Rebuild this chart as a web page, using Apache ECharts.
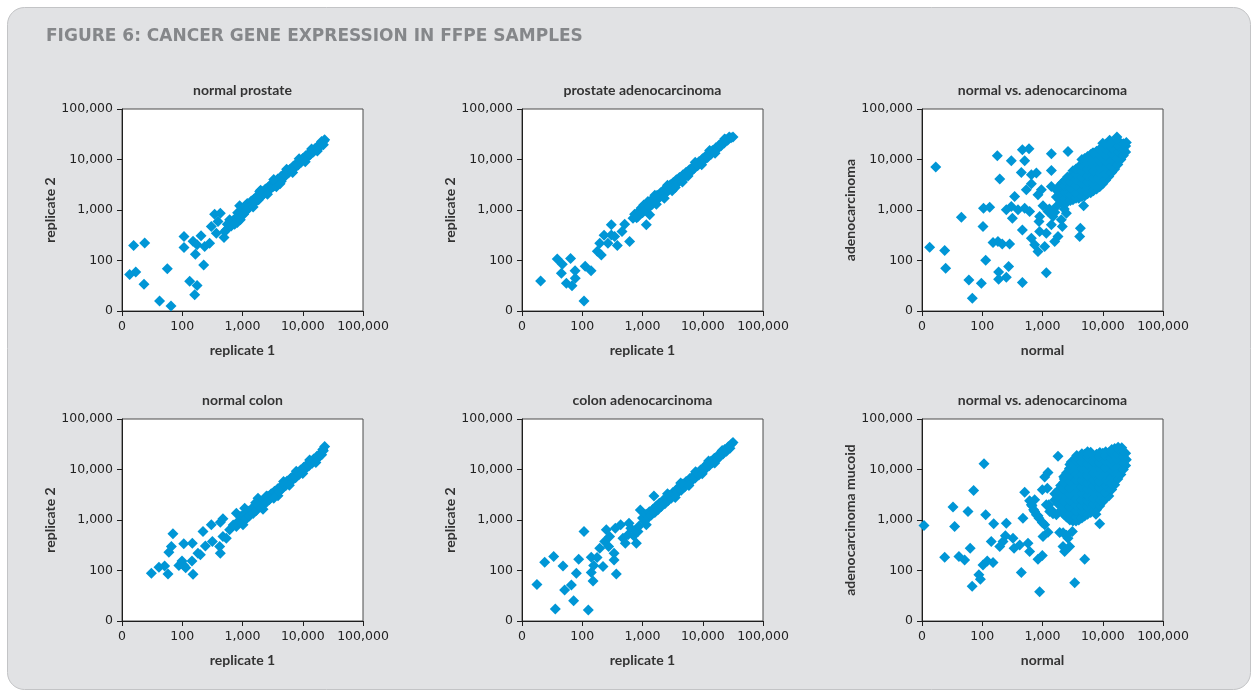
<!DOCTYPE html>
<html>
<head>
<meta charset="utf-8">
<script src="https://cdn.jsdelivr.net/npm/echarts@6/dist/echarts.min.js"></script>
<style>
html,body{margin:0;padding:0;background:#ffffff;}
#chart{width:1253px;height:692px;}
</style>
</head>
<body>
<div id="chart"></div>
<script>
// ---------- DATA ----------
const figureTitle = 'FIGURE 6: CANCER GENE EXPRESSION IN FFPE SAMPLES';
const panelTitles = ['normal prostate', 'prostate adenocarcinoma', 'normal vs. adenocarcinoma',
                     'normal colon', 'colon adenocarcinoma', 'normal vs. adenocarcinoma'];
const xNames = ['replicate 1', 'replicate 1', 'normal', 'replicate 1', 'replicate 1', 'normal'];
const yNames = ['replicate 2', 'replicate 2', 'adenocarcinoma', 'replicate 2', 'replicate 2', 'adenocarcinoma mucoid'];
const tickValues = [10, 100, 1000, 10000, 100000];
const tickLabels = ['0', '100', '1,000', '10,000', '100,000'];

const normalProstate = [
  [15.6,198],[23.8,223],[13.4,53],[16.9,59],[23.2,34],[56.5,69],[42,15.8],[65,12.6],
  [107,298],[107,180],[133,39],[176,32],[161,21],[165,133],[227,81],[151,241],[205,308],[176,204],[236,189],[285,220],
  [345,826],[428,865],[368,347],[493,285],[304,471],[539,404],[392,591],
  [612,638],[820,565],[506,375],[560,520],[650,480],[700,620],[740,520],[780,700],[830,880],[870,760],[897,1210],
  [920,640],[960,900],[1000,1050],[1050,820],[1100,1200],[1150,950],[1200,1350],[1260,1100],[1330,1250],[1400,1500],
  [1480,1300],[1560,1650],[1650,1450],[1750,1900],[1850,1600],[1930,2330],[2000,1800],[2150,2300],[2250,2050],
  [2400,2600],[2550,2300],[2700,2900],[2850,2550],[3000,3250],[3200,2900],[3420,3010],[3400,3700],[3650,3400],
  [3650,2900],[4400,3700],[3850,4100],[4100,3750],[4350,4600],[4600,4200],[4900,5200],[5200,4800],[5500,5800],
  [5800,5400],[6200,6500],[6600,6100],[7000,7400],[7400,6900],[7900,8300],[8400,7800],[8900,9300],[9400,8800],
  [10000,10500],[10600,9900],[11200,11800],[11900,11100],[12600,13200],[13400,12500],[14200,14800],[15000,14000],
  [16000,16600],[17000,15900],[18000,18700],[19000,17900],[20000,20800],[21200,20000],[22500,23500],[23100,24660],
  [1500,1150],[2000,2450],[2600,2050],[3300,4000],[4200,3300],[5400,6400],[6800,5500],[8700,10300],[11000,9000],
  [14000,16200],[17500,14800],[20500,22800],[22000,19600]
];

const prostateAdeno = [
  [20.4,39.4],[38.5,107],[46.7,84],[45,56],[64,109],[76,63],[76.5,44.5],[54.5,35.4],[67.6,31.8],[107,15.8],[112,77],[140,63],
  [178,152],[195,220],[230,317],[207,129],[267,220],[304,508],[304,321],[382,198],[345,300],[506,524],[457,375],
  [612,237],[695,689],[841,743],[1158,508],[1315,802],[1232,1479],
  [740,820],[800,700],[880,950],[950,1100],[1000,880],[1050,1250],[1120,1000],[1200,1350],[1300,1150],[1380,1550],
  [1450,1300],[1550,1700],[1650,1500],[1750,1950],[1850,1700],[2000,2200],[2100,1900],[2250,2500],[2400,2150],
  [2550,2800],[2700,2450],[2900,3150],[3050,2750],[3250,3500],[3450,3100],[3650,3950],[3900,3500],[4100,4400],
  [4400,3950],[4700,5000],[5000,4500],[5300,5600],[5600,5100],[6000,6300],[6400,5800],[6800,7100],[7200,6600],
  [7700,8000],[8200,7500],[8700,9100],[9300,8600],[9900,10300],[10500,9700],[11200,11700],[12000,11000],
  [12800,13300],[13600,12600],[14500,15100],[15500,14400],[16500,17100],[17600,16300],[18700,19400],[20000,18600],
  [21300,22000],[22700,21100],[24200,25000],[25800,24000],[27500,28000],[29500,27000],[31770,27860],
  [2300,1700],[3100,2400],[1700,1300],[4600,3600],
  [1600,1950],[2600,3100],[3500,2800],[5700,4700],[7500,8800],[9600,7900],[13000,15000],[16000,13300],[23000,25500]
];

const prostateNormalVsAdeno = [
  [13.4,183],[16.9,7080],[23.8,157],[24.7,70],[45,721],[60,41],[68.4,17.8],[96.6,35.4],[103,471],[105,1087],[133,1138],
  [114,101],[151,226],[178,11860],[195,4090],[182,237],[215,213],[285,213],[187,59],[187,42.5],[251,46.6],[274,76],
  [304,9440],[345,1854],[251,1008],[304,1172],[316,689],[392,1008],[445,5550],[463,15600],[506,9440],[597,16300],
  [463,404],[463,36.5],[539,2510],[506,1087],[612,933],[653,3300],[653,4990],[791,5380],[653,276],[741,204],[875,591],
  [957,2510],[841,2000],[897,743],[897,375],[841,150],[1087,189],[1158,347],[1019,1211],[1233,933],[1158,57.5],
  [1403,13000],[1403,6070],[1403,2920],[1494,743],[1403,508],[1592,237],[1810,298],[2054,638],[2134,471],[1700,1172],
  [2490,865],[2650,14450],[4140,298],[4250,437],[4820,1211],[1300,1050],[1600,900],[2300,1050],
  [1700,1800],[1700,2500],
  [2100,1400],[2100,1900],[2100,2600],[2100,3400],
  [2600,1450],[2600,1900],[2600,2600],[2600,3400],[2600,4500],
  [3200,1600],[3200,2100],[3200,2800],[3200,3700],[3200,4900],[3200,6000],
  [4000,1700],[4000,2300],[4000,3100],[4000,4100],[4000,5400],[4000,7200],
  [5000,1900],[5000,2600],[5000,3500],[5000,4600],[5000,6100],[5000,8100],[5000,10500],
  [6300,2200],[6300,3000],[6300,4000],[6300,5300],[6300,7000],[6300,9300],[6300,12500],
  [7900,2600],[7900,3500],[7900,4700],[7900,6200],[7900,8200],[7900,11000],[7900,14500],
  [10000,3300],[10000,4400],[10000,5800],[10000,7700],[10000,10200],[10000,13500],[10000,17500],
  [12600,4600],[12600,6100],[12600,8100],[12600,10700],[12600,14000],[12600,18500],
  [15800,6500],[15800,8600],[15800,11400],[15800,15000],[15800,20000],
  [20000,10000],[20000,13500],[20000,18000],
  [24000,14000],[24000,18500],[24600,21800],
  [2900,2300],[3600,4300],[4500,2900],[5600,5500],[7000,3800],[8800,9500],[11300,7000],[14000,12000],
  [17500,16000],[22000,20000],[9000,15500],[6800,13500],[10000,21000],[13000,24000],[17200,27900],
  [1900,1600],[1900,2200],[1900,3000],
  [2350,1450],[2350,1700],[2350,2250],[2350,3000],[2350,3900],
  [2900,1550],[2900,2000],[2900,2700],[2900,3600],[2900,4700],
  [3600,1700],[3600,2200],[3600,2950],[3600,3900],[3600,5200],[3600,6500],
  [4500,1850],[4500,2450],[4500,3300],[4500,4400],[4500,5800],[4500,7700],[4500,10000],
  [5600,2100],[5600,2800],[5600,3700],[5600,4900],[5600,6500],[5600,8700],[5600,11500],
  [7000,2400],[7000,3200],[7000,4300],[7000,5700],[7000,7600],[7000,10000],[7000,13500],
  [8900,2900],[8900,3900],[8900,5200],[8900,6900],[8900,9200],[8900,12200],[8900,16000],
  [11200,3900],[11200,5200],[11200,6900],[11200,9200],[11200,12200],[11200,16000],[11200,20000],
  [14100,5500],[14100,7300],[14100,9700],[14100,12800],[14100,17000],[14100,22000],
  [17800,8000],[17800,10500],[17800,14000],[17800,18500],[17800,24000],
  [22000,12000],[22000,16000],[22000,20500]
];

const normalColon = [
  [30.7,88],[41,116],[51,123],[58,85.5],[60,230],[66,298],[70,532],[88,125],[99,155],[106,337],[107,125],[114,114],
  [145,155],[147,347],[151,84],[182,220],[200,204],[221,591],[242,307],[304,802],[316,375],[418,298],[428,220],
  [428,906],[474,1054],[474,471],[539,437],[612,638],[791,743],[791,1368],[1019,802],[1087,1718],[1403,1368],
  [1810,2710],[2190,1640],[3880,3010],
  [700,800],[860,950],[950,1200],[1000,900],[1080,1300],[1150,1050],[1230,1500],[1300,1200],[1400,1650],[1500,1350],
  [1600,1850],[1700,1550],[1800,2100],[1950,1800],[2050,2350],[2200,2000],[2350,2650],[2500,2250],[2650,2950],
  [2800,2550],[3000,3300],[3200,2900],[3400,3700],[3600,3300],[3850,4150],[4100,3700],[4350,4650],[4600,4200],
  [4900,5200],[5200,4750],[5500,5900],[5900,5400],[6300,6700],[6700,6100],[7100,7600],[7600,6900],[8100,8600],
  [8600,7900],[9200,9800],[9800,9000],[10400,11100],[11100,10300],[11800,12600],[12600,11700],[13400,14300],
  [14300,13300],[15200,16200],[16200,15100],[17200,18400],[18300,17200],[19500,20800],[20600,19600],[22000,23500],
  [23100,28700],[21500,25000],
  [1650,2200],[2500,3000],[3300,2700],[4800,5800],[6000,4900],[7800,9200],[10000,8300],[13000,15500],[16500,13800]
];

const colonAdeno = [
  [17.7,53],[23.8,146],[33.6,189],[35.7,17.3],[47.9,123],[51,41],[66,51.8],[72,25.3],[79.8,88],[87.3,167],[107,591],
  [126,16.5],[141,183],[141,91],[151,62],[155,125],[176,180],[195,276],[221,120],[236,375],[251,638],[274,298],
  [285,471],[337,162],[337,220],[368,85.5],[354,689],[434,802],[474,437],[518,347],[597,865],[575,508],[791,347],
  [841,591],[920,1585],[1158,802],[640,690],[713,490],[760,620],[880,760],[1550,3000],
  [1000,1100],[1080,950],[1150,1300],[1230,1100],[1300,1450],[1400,1250],[1500,1650],[1600,1400],[1700,1900],
  [1800,1600],[1900,2150],[2050,1850],[2200,2450],[2350,2100],[2500,2750],[2650,2400],[2850,3100],[3000,2700],
  [3200,3500],[3400,3050],[3650,4000],[3850,3500],[4100,4550],[4400,3900],[4700,5150],[5000,4500],[5300,5800],
  [5700,5100],[6100,6600],[6500,5900],[7000,7500],[7500,6800],[8000,8600],[8600,7800],[9200,9800],[9800,9000],
  [10500,11200],[11200,10400],[12000,12800],[12800,11900],[13700,14600],[14600,13600],[15600,16700],[16700,15500],
  [17800,19000],[19000,17700],[20300,21700],[21700,20200],[23200,24800],[24800,23000],[26500,28300],[28300,26400],
  [30000,32000],[31770,34400],
  [2600,3300],[3500,2800],[4300,5400],[5900,4800],[7600,9000],[9800,8200],[12500,14700],[15800,13500],[21000,23800]
];

const colonNormalVsMucoid = [
  [10.8,778],[23.8,183],[32.7,1800],[34.8,743],[41,189],[51,162],[58,1476],[63,276],[72,3850],[88,82],[93,67],[68,49],
  [107,13000],[114,1268],[103,129],[121,155],[151,144],[141,375],[155,839],[195,298],[221,375],[251,865],[242,485],
  [337,276],[324,437],[445,91],[418,321],[474,1087],[506,3560],[575,347],[612,237],[841,167],[897,38],[993,198],
  [653,2000],[741,1476],[741,2510],[841,1211],[1019,471],[1087,802],[993,3960],[1087,7080],[1233,8750],[1202,4270],
  [1158,2000],[1315,1476],[1233,574],[1700,1268],[1810,18200],[1930,565],[2190,298],[2330,237],[2650,437],[2820,298],
  [3130,591],[3420,57.5],[5010,167],[8890,839],[7700,1300],
  [612,2400],[670,1910],[713,1590],[791,1268],[875,1087],[993,891],[1275,2000],[1403,1585],[1494,1325],
  [2200,560],[2500,500],
  [1600,2500],[1600,3300],
  [2000,1500],[2000,2000],[2000,2700],[2000,3600],[2000,4800],
  [2500,1150],[2500,1500],[2500,2000],[2500,2700],[2500,3600],[2500,4800],[2500,6400],[2500,8500],
  [3200,950],[3200,1250],[3200,1650],[3200,2200],[3200,2900],[3200,3900],[3200,5200],[3200,6900],[3200,9200],[3200,12200],
  [4000,1000],[4000,1300],[4000,1750],[4000,2300],[4000,3100],[4000,4100],[4000,5500],[4000,7300],[4000,9700],[4000,13000],[4000,17000],
  [5000,1200],[5000,1600],[5000,2100],[5000,2800],[5000,3700],[5000,4900],[5000,6500],[5000,8700],[5000,11500],[5000,15300],[5000,20000],
  [6300,1400],[6300,1850],[6300,2450],[6300,3250],[6300,4300],[6300,5700],[6300,7600],[6300,10100],[6300,13400],[6300,17800],[6300,22000],
  [7900,1600],[7900,2100],[7900,2800],[7900,3700],[7900,4900],[7900,6500],[7900,8700],[7900,11500],[7900,15300],[7900,20000],
  [10000,2300],[10000,3000],[10000,4000],[10000,5300],[10000,7000],[10000,9300],[10000,12400],[10000,16500],[10000,21000],
  [12600,3000],[12600,4000],[12600,5300],[12600,7000],[12600,9300],[12600,12400],[12600,16500],[12600,21500],
  [15800,5000],[15800,6600],[15800,8800],[15800,11700],[15800,15600],[15800,20500],[15800,26000],
  [20000,8000],[20000,10600],[20000,14000],[20000,18600],[20000,24500],
  [24000,12000],[24000,16000],[24000,21000],[24600,15600],
  [3000,14000],[3700,19000],[4500,20500],[5600,22500],[20650,27000],[9000,21500],[2800,10500],[2300,6500],[18000,27500],
  [1800,2100],[1800,2900],[1800,3800],
  [2250,1300],[2250,1750],[2250,2350],[2250,3150],[2250,4200],[2250,5600],[2250,7200],
  [2850,1000],[2850,1350],[2850,1800],[2850,2400],[2850,3200],[2850,4300],[2850,5800],[2850,7700],[2850,10000],[2850,12500],
  [3600,950],[3600,1150],[3600,1500],[3600,2000],[3600,2600],[3600,3500],[3600,4600],[3600,6200],[3600,8200],[3600,11000],[3600,14500],[3600,17500],
  [4500,1100],[4500,1450],[4500,1900],[4500,2500],[4500,3400],[4500,4500],[4500,6000],[4500,8000],[4500,10600],[4500,14000],[4500,18000],
  [5600,1300],[5600,1750],[5600,2300],[5600,3100],[5600,4100],[5600,5400],[5600,7200],[5600,9600],[5600,12800],[5600,17000],[5600,21000],
  [7000,1500],[7000,2000],[7000,2650],[7000,3500],[7000,4700],[7000,6200],[7000,8200],[7000,11000],[7000,14500],[7000,19000],
  [8900,1900],[8900,2500],[8900,3300],[8900,4400],[8900,5800],[8900,7700],[8900,10300],[8900,13700],[8900,18000],[8900,21500],
  [11200,2700],[11200,3500],[11200,4700],[11200,6200],[11200,8200],[11200,10900],[11200,14500],[11200,19000],[11200,22500],
  [14100,4000],[14100,5300],[14100,7000],[14100,9300],[14100,12400],[14100,16500],[14100,21500],[14100,25000],
  [17800,6500],[17800,8600],[17800,11400],[17800,15200],[17800,20000],[17800,25500],
  [22000,10000],[22000,13300],[22000,17600],[22000,23000]
];

const panelData = [normalProstate, prostateAdeno, prostateNormalVsAdeno, normalColon, colonAdeno, colonNormalVsMucoid];

// ---------- CHART ----------
const chart = echarts.init(document.getElementById('chart'), null, {renderer: 'canvas'});
const pointColor = '#0096d6';
const gridW = 241, gridH = 202;
const lefts = [122, 522, 922];
const tops = [109, 419];

function fmt(v) {
  let best = 0;
  for (let i = 0; i < tickValues.length; i++) {
    if (Math.abs(Math.log10(v) - Math.log10(tickValues[i])) < Math.abs(Math.log10(v) - Math.log10(tickValues[best]))) best = i;
  }
  return tickLabels[best];
}

const grids = [], xAxes = [], yAxes = [], series = [], graphics = [];

graphics.push({
  type: 'rect', z: -100, silent: true,
  shape: {x: 7.5, y: 7.5, width: 1243, height: 682, r: 17},
  style: {fill: '#e1e2e4', stroke: '#c3c4c6', lineWidth: 1}
});
graphics.push({
  type: 'text', left: 46, top: 28,
  style: {text: figureTitle, fill: '#85878a', font: 'bold 17px "DejaVu Sans"'}
});

const axisCommon = {
  type: 'log', logBase: 10, min: 10, max: 100000,
  splitLine: {show: false},
  axisLine: {show: true, onZero: false, lineStyle: {color: '#1e1e1e', width: 1}},
  axisTick: {show: true, inside: false, length: 5, lineStyle: {color: '#1e1e1e'}},
  nameLocation: 'middle',
  nameTextStyle: {fontFamily: 'Lato', fontWeight: 'bold', fontSize: 14, color: '#333333'}
};

for (let i = 0; i < 6; i++) {
  const col = i % 3, row = Math.floor(i / 3);
  grids.push({
    left: lefts[col], top: tops[row], width: gridW, height: gridH,
    show: true, backgroundColor: '#ffffff', borderColor: '#4a4a4a', borderWidth: 1,
    containLabel: false
  });
  xAxes.push(Object.assign({}, axisCommon, {
    gridIndex: i, name: xNames[i], nameGap: 32,
    axisLabel: {formatter: fmt, margin: 9, fontFamily: 'DejaVu Sans', fontSize: 12.5, color: '#222222'}
  }));
  yAxes.push(Object.assign({}, axisCommon, {
    gridIndex: i, name: yNames[i], nameGap: 63,
    axisLabel: {formatter: fmt, margin: 9, fontFamily: 'DejaVu Sans', fontSize: 12.5, color: '#222222'}
  }));
  series.push({
    type: 'scatter', xAxisIndex: i, yAxisIndex: i,
    symbol: 'diamond', symbolSize: 11,
    itemStyle: {color: pointColor, opacity: 1},
    data: panelData[i], silent: true
  });
  graphics.push({
    type: 'text', x: lefts[col] + gridW / 2, y: tops[row] - 19,
    style: {text: panelTitles[i], fill: '#333333', font: 'bold 14px Lato', textAlign: 'center', textVerticalAlign: 'middle'}
  });
}

chart.setOption({
  animation: false,
  backgroundColor: '#ffffff',
  grid: grids, xAxis: xAxes, yAxis: yAxes, series: series,
  graphic: graphics
});
</script>
</body>
</html>
